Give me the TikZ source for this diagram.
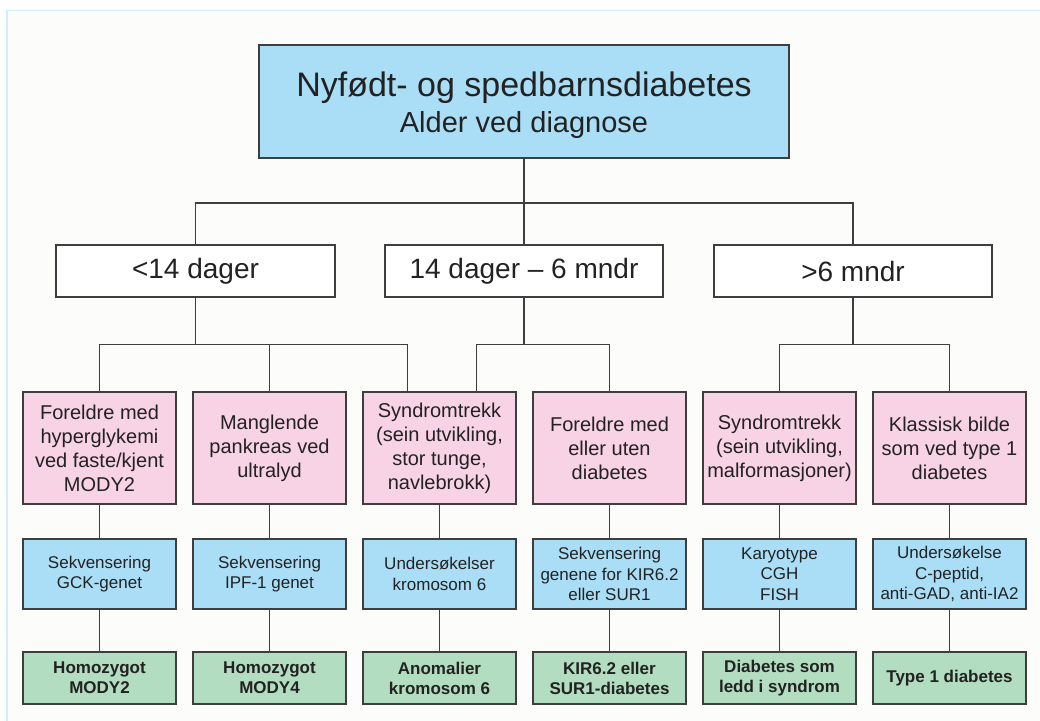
\documentclass[tikz,border=0pt]{standalone}
\usepackage{fontspec}
\setmainfont{Liberation Sans}
\definecolor{bluefill}{RGB}{170,222,246}
\definecolor{pinkfill}{RGB}{248,210,229}
\definecolor{greenfill}{RGB}{179,221,192}
\definecolor{linecol}{RGB}{62,62,62}
\definecolor{bgcol}{RGB}{252,252,250}
\definecolor{framecol}{RGB}{212,237,250}
\definecolor{txt}{RGB}{34,34,34}
\tikzset{
  box/.style={draw=linecol, line width=1.3pt, inner sep=0pt, align=center, text=txt},
  topbox/.style={box, fill=bluefill, line width=2.2pt, minimum width=530pt, minimum height=113pt,
     font=\fontsize{29}{35}\selectfont},
  agebox/.style={box, fill=white, minimum width=278pt, minimum height=52pt, font=\fontsize{28}{32}\selectfont},
  pinkbox/.style={box, fill=pinkfill, minimum width=153pt, minimum height=112pt, font=\fontsize{20}{24}\selectfont},
  bluebox/.style={box, fill=bluefill, minimum width=153pt, minimum height=70pt, font=\fontsize{17}{20.5}\selectfont},
  greenbox/.style={box, fill=greenfill, minimum width=153pt, minimum height=52pt, font=\fontsize{17}{20}\selectfont\bfseries},
  conn/.style={draw=linecol, line width=1.3pt}
}
\begin{document}
\begin{tikzpicture}[x=1pt,y=-1pt]
\useasboundingbox (0,0) rectangle (1040,720);
\fill[white] (0,0) rectangle (1040,720);
\filldraw[fill=bgcol, draw=framecol, line width=1.5pt] (7,10.5) rectangle (1060,740);

\node[topbox] (top) at (524,101.5) {\rule{0pt}{33pt}{\fontsize{34}{35}\selectfont Nyfødt- og spedbarnsdiabetes}\\[1pt]Alder ved diagnose};

\node[agebox, minimum width=279pt] (a1) at (195.5,271) {<14 dager};
\node[agebox] (a2) at (524,271) {14 dager – 6 mndr};
\node[agebox] (a3) at (853,271) {>6 mndr};

\node[pinkbox] (p1) at (99.5,448) {Foreldre med\\hyperglykemi\\ved faste/kjent\\MODY2};
\node[pinkbox] (p2) at (269.5,448) {Manglende\\pankreas ved\\ultralyd};
\node[pinkbox] (p3) at (439.5,448) {Syndromtrekk\\(sein utvikling,\\stor tunge,\\navlebrokk)};
\node[pinkbox] (p4) at (609.5,448) {Foreldre med\\eller uten\\diabetes};
\node[pinkbox] (p5) at (779.5,448) {Syndromtrekk\\(sein utvikling,\\malformasjoner)};
\node[pinkbox] (p6) at (949.5,448) {Klassisk bilde\\som ved type 1\\diabetes};

\node[bluebox] (b1) at (99.5,574) {Sekvensering\\GCK-genet};
\node[bluebox] (b2) at (269.5,574) {Sekvensering\\IPF-1 genet};
\node[bluebox] (b3) at (439.5,574) {Undersøkelser\\kromosom 6};
\node[bluebox] (b4) at (609.5,574) {Sekvensering\\genene for KIR6.2\\eller SUR1};
\node[bluebox] (b5) at (779.5,574) {Karyotype\\CGH\\FISH};
\node[bluebox] (b6) at (949.5,574) {Undersøkelse\\C-peptid,\\anti-GAD, anti-IA2};

\node[greenbox] (g1) at (99.5,678) {Homozygot\\MODY2};
\node[greenbox] (g2) at (269.5,678) {Homozygot\\MODY4};
\node[greenbox] (g3) at (439.5,678) {Anomalier\\kromosom 6};
\node[greenbox] (g4) at (609.5,678) {KIR6.2 eller\\SUR1-diabetes};
\node[greenbox] (g5) at (779.5,678) {Diabetes som\\ledd i syndrom};
\node[greenbox] (g6) at (949.5,678) {Type 1 diabetes};

% top level
\draw[conn] (top.south) -- ++(0,44) coordinate (j0);
\draw[conn] (j0) -| (a1.north);
\draw[conn] (j0) -| (a3.north);
\draw[conn] (j0) -- (a2.north);

% groups
\draw[conn] (a1.south) -- ++(0,47) coordinate (k1);
\draw[conn] (k1) -| (p1.north);
\draw[conn] (k1) -| (p2.north);
\draw[conn] (k1) -| ([xshift=-32pt]p3.north);
\draw[conn] (a2.south) -- ++(0,47) coordinate (k2);
\draw[conn] (k2) -| ([xshift=37pt]p3.north);
\draw[conn] (k2) -| (p4.north);
\draw[conn] (a3.south) -- ++(0,47) coordinate (k3);
\draw[conn] (k3) -| (p5.north);
\draw[conn] (k3) -| (p6.north);

% columns
\foreach \i in {1,...,6}{
  \draw[conn] (p\i.south) -- (b\i.north);
  \draw[conn] (b\i.south) -- (g\i.north);
}
\end{tikzpicture}
\end{document}
